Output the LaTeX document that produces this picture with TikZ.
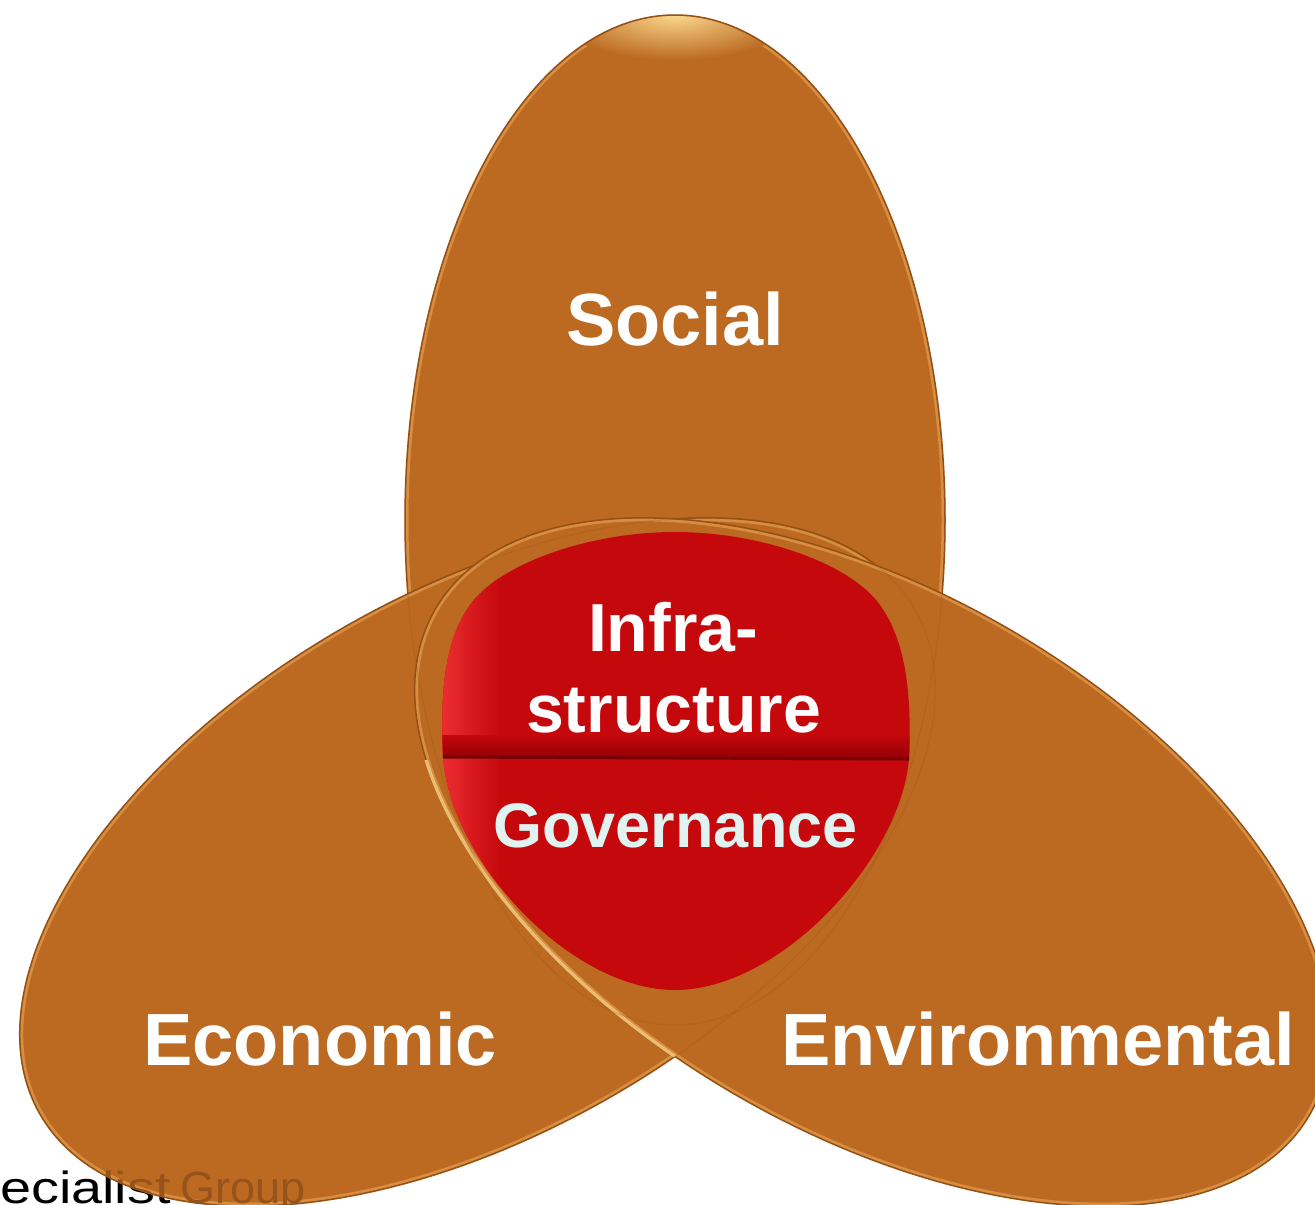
\documentclass[tikz,border=0pt]{standalone}
\usepackage{fontspec}
\setmainfont{Liberation Sans}
\definecolor{petalfill}{RGB}{188,106,34}
\definecolor{petaledge}{RGB}{150,80,20}
\definecolor{petalhi}{RGB}{250,215,140}
\definecolor{petalrim}{RGB}{238,172,92}
\definecolor{petaltext}{RGB}{150,84,28}
\definecolor{redfill}{RGB}{196,8,12}
\definecolor{redlight}{RGB}{240,48,52}
\definecolor{reddark}{RGB}{150,0,6}
\definecolor{redline}{RGB}{120,0,4}
\definecolor{govtext}{RGB}{224,243,241}
\begin{document}
\begin{tikzpicture}[x=1pt,y=1pt,
  petal/.style={fill=petalfill},
  petalline/.style={draw=petaledge, line width=1.5pt},
  rim/.style={draw=petalrim, line width=7pt, opacity=0.55},
  lbl/.style={text=white, font=\bfseries\fontsize{74}{80}\selectfont, anchor=base, inner sep=0pt},
  midlbl/.style={lbl, font=\bfseries\fontsize{68}{72}\selectfont},
  govlbl/.style={lbl, text=govtext, font=\bfseries\fontsize{63}{66}\selectfont},
  credit/.style={anchor=base west, inner sep=0pt, font=\fontsize{45}{48}\selectfont}]
\fill[white] (0,0) rectangle (1315,-1205);
\useasboundingbox (0,0) rectangle (1315,-1205);
\coordinate (P) at (675,-748);

% credit text (partly covered by the left petal)
\node[credit, text=black] (creditA) at (0,-1203) {\scalebox{1.24}[1]{ecialist}};
\node[credit, text=black] (creditB) at (180,-1203) {Group};

% top petal (Social)
\fill[petal] (675,-520) ellipse [x radius=270, y radius=505];
\begin{scope}
  \clip (675,-520) ellipse [x radius=270, y radius=505];
  \draw[rim] (675,-520) ellipse [x radius=270, y radius=505];
  \shade[inner color=petalhi, outer color=petalfill] (675,-15) ellipse [x radius=120, y radius=45];
\end{scope}
\draw[petalline] (675,-520) ellipse [x radius=270, y radius=505];

% left petal (Economic)
\fill[petal, rotate around={120:(P)}] (675,-520) ellipse [x radius=270, y radius=505];
\begin{scope}
  \clip[rotate around={120:(P)}] (675,-520) ellipse [x radius=270, y radius=505];
  \draw[rim, rotate around={120:(P)}] (675,-520) ellipse [x radius=270, y radius=505];
  \node[credit, text=petaltext] (creditAs) at (0,-1203) {\scalebox{1.24}[1]{ecialist}};
  \node[credit, text=petaltext] (creditBs) at (180,-1203) {Group};
\end{scope}
\draw[petalline, rotate around={120:(P)}] (675,-520) ellipse [x radius=270, y radius=505];

% right petal (Environmental)
\fill[petal, rotate around={-120:(P)}] (675,-520) ellipse [x radius=270, y radius=505];
\begin{scope}
  \clip[rotate around={-120:(P)}] (675,-520) ellipse [x radius=270, y radius=505];
  \draw[rim, rotate around={-120:(P)}] (675,-520) ellipse [x radius=270, y radius=505];
\end{scope}
\draw[petalline, rotate around={-120:(P)}] (675,-520) ellipse [x radius=270, y radius=505];
% light edge of the right petal where it lies over the left one
\begin{scope}
  \clip (0,-760) rectangle (1315,-1205);
  \clip[rotate around={120:(P)}] (675,-520) ellipse [x radius=270, y radius=505];
  \draw[draw=petalhi, line width=3pt, opacity=0.8, rotate around={-120:(P)}] (675,-520) ellipse [x radius=270, y radius=505];
\end{scope}

% faint edges seen through the petals
\draw[petalline, opacity=0.2] (675,-520) ellipse [x radius=270, y radius=505];
\draw[petalline, opacity=0.2, rotate around={120:(P)}] (675,-520) ellipse [x radius=270, y radius=505];

% red centre
\fill[redfill] (443,-757) .. controls (440,-690) and (445,-640) .. (470,-605)
  .. controls (500,-563) and (590,-532) .. (675,-532)
  .. controls (760,-532) and (850,-563) .. (880,-605)
  .. controls (905,-640) and (912,-690) .. (909,-759)
  .. controls (900,-860) and (780,-990) .. (675,-990)
  .. controls (570,-990) and (450,-860) .. (443,-757) -- cycle;
\begin{scope}
  \clip (443,-757) .. controls (440,-690) and (445,-640) .. (470,-605)
  .. controls (500,-563) and (590,-532) .. (675,-532)
  .. controls (760,-532) and (850,-563) .. (880,-605)
  .. controls (905,-640) and (912,-690) .. (909,-759)
  .. controls (900,-860) and (780,-990) .. (675,-990)
  .. controls (570,-990) and (450,-860) .. (443,-757) -- cycle;
  \shade[left color=redlight, right color=redfill] (436,-1000) rectangle (500,-520);
  \shade[top color=redfill, bottom color=reddark] (430,-735) rectangle (925,-757);
\end{scope}
\draw[redline, line width=3pt] (443,-757) -- (909,-759);

% labels
\node[lbl] (social) at (675,-345) {Social};
\node[midlbl] (infra) at (673,-651) {Infra-};
\node[midlbl] (struct) at (673.5,-732) {structure};
\node[govlbl] (gov) at (675.5,-847) {Governance};
\node[lbl] (econ) at (320,-1065) {Economic};
\node[lbl] (env) at (1038,-1065) {Environmental};
\end{tikzpicture}
\end{document}
